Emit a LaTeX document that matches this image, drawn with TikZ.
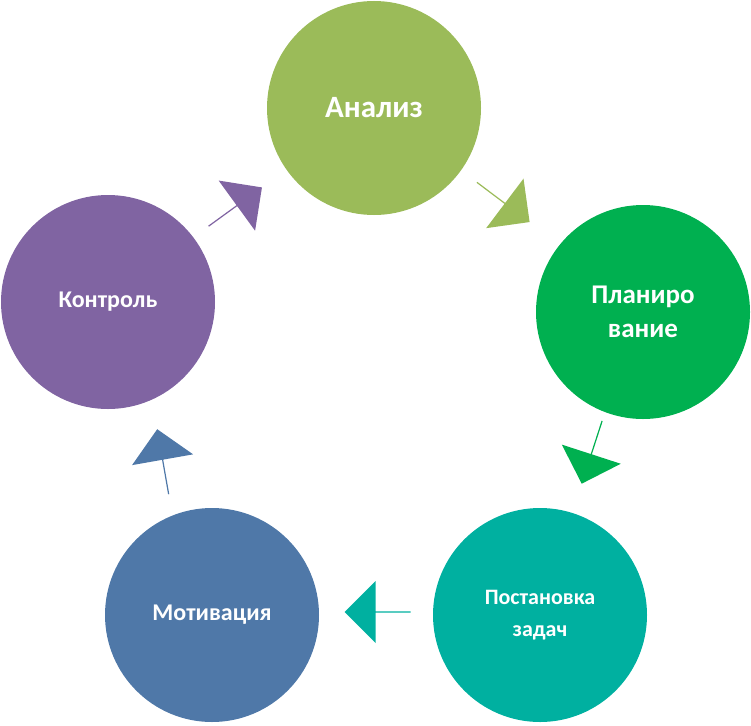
\documentclass[tikz,border=0pt]{standalone}
\usepackage{fontspec}
\setmainfont{Carlito}
\usetikzlibrary{shapes.arrows}
\definecolor{cA}{RGB}{155,187,89}
\definecolor{cB}{RGB}{0,176,80}
\definecolor{cC}{RGB}{0,176,160}
\definecolor{cD}{RGB}{79,120,168}
\definecolor{cE}{RGB}{128,100,162}
\tikzset{
 circ/.style={circle,fill=#1,minimum size=214pt,inner sep=0pt,text=white,font=\bfseries\fontsize{24}{29}\selectfont,align=center},
 barrow/.style={single arrow,fill=#1,minimum height=66pt,minimum width=62pt,single arrow head extend=10pt,inner sep=0pt,single arrow tip angle=90}
}
\begin{document}
\begin{tikzpicture}[x=1pt,y=1pt]
\useasboundingbox (0,0) rectangle (751,-725);
\node[circ=cA,font=\bfseries\fontsize{31}{36}\selectfont] (a) at (374,-108) {Анализ};
\node[circ=cB,font=\bfseries\fontsize{27}{34}\selectfont] (b) at (643,-312) {Планиро\\вание};
\node[circ=cC,font=\bfseries\fontsize{22}{32}\selectfont] (c) at (540,-615) {Постановка\\задач};
\node[circ=cD] (d) at (212,-615) {Мотивация};
\node[circ=cE] (e) at (108,-302) {Контроль};
\node[barrow=cA,rotate=-37] (ab) at (503,-202) {};
\node[barrow=cB,rotate=-108] (bc) at (592,-452) {};
\node[barrow=cC,rotate=180] (cd) at (378,-612) {};
\node[barrow=cD,rotate=100] (de) at (163,-462) {};
\node[barrow=cE,rotate=36] (ea) at (235,-207) {};
\end{tikzpicture}
\end{document}
